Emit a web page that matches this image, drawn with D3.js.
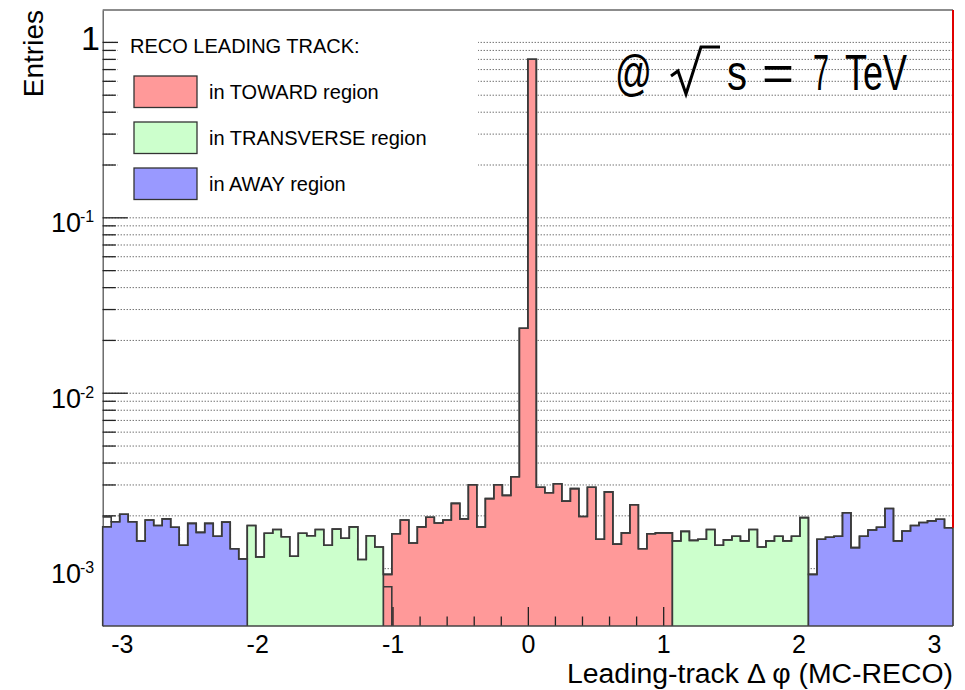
<!DOCTYPE html>
<html><head><meta charset="utf-8">
<script src="https://cdn.jsdelivr.net/npm/d3@7/dist/d3.min.js"></script>
<style>body{margin:0;background:#fff} text{font-family:"Liberation Sans",Arial,Helvetica,sans-serif;fill:#000}</style>
</head><body>
<svg id="c" width="965" height="690" xmlns="http://www.w3.org/2000/svg"></svg>
<script>
// ---------------- DATA ----------------
const binCount = 100;
const xDomain = [-Math.PI, Math.PI];
const yDomain = [4.68e-4, 1.52];

// total (outline) histogram, 100 bins from -pi to pi
const totalEntries = [
  0.00196, 0.00184, 0.00203, 0.00184, 0.00143, 0.00188, 0.00175, 0.00191, 0.00171, 0.00135,
  0.00180, 0.00160, 0.00180, 0.00152, 0.00183, 0.00129, 0.00113, 0.00175, 0.00116, 0.00158,
  0.00166, 0.00151, 0.00117, 0.00158, 0.00153, 0.00166, 0.00135, 0.00167, 0.00148, 0.00172,
  0.00112, 0.00153, 0.00132, 0.000922, 0.00157, 0.00188, 0.00139, 0.00172, 0.00195, 0.00181,
  0.00188, 0.00234, 0.00191, 0.00299, 0.00172, 0.00249, 0.00299, 0.00260, 0.00332, 0.0233,
  0.796, 0.00289, 0.00269, 0.00303, 0.00241, 0.00284, 0.00197, 0.00289, 0.00146, 0.00272,
  0.00137, 0.00159, 0.00230, 0.00129, 0.00157, 0.00159, 0.00159, 0.00143, 0.00162, 0.00144,
  0.00146, 0.00166, 0.00135, 0.00145, 0.00152, 0.00143, 0.00166, 0.00132, 0.00143, 0.00152,
  0.00143, 0.00152, 0.00194, 0.000922, 0.00146, 0.00150, 0.00152, 0.00207, 0.00131, 0.00152,
  0.00165, 0.00171, 0.00219, 0.00143, 0.00163, 0.00175, 0.00182, 0.00186, 0.00190, 0.00170
];

// region histograms (filled), each given with its first bin index
const awayLeftStart = 0;
const awayLeftEntries = [0.00172, 0.00184, 0.00203, 0.00184, 0.00143, 0.00188, 0.00175, 0.00191, 0.00171, 0.00135, 0.00180, 0.00160, 0.00180, 0.00152, 0.00183, 0.00129, 0.00113];
const transverseLeftStart = 17;
const transverseLeftEntries = [0.00175, 0.00116, 0.00158, 0.00166, 0.00151, 0.00117, 0.00158, 0.00153, 0.00166, 0.00135, 0.00167, 0.00148, 0.00172, 0.00112, 0.00153, 0.00132];
const towardStart = 33;
const towardEntries = [0.000922, 0.00157, 0.00188, 0.00139, 0.00172, 0.00195, 0.00181, 0.00188, 0.00234, 0.00191, 0.00299, 0.00172, 0.00249, 0.00299, 0.00260, 0.00332, 0.0233, 0.796, 0.00289, 0.00269, 0.00303, 0.00241, 0.00284, 0.00197, 0.00289, 0.00146, 0.00272, 0.00137, 0.00159, 0.00230, 0.00129, 0.00157, 0.00159, 0.00159];
const towardOverlapStart = 33;
const towardOverlapEntries = [0.000783];
const transverseRightStart = 67;
const transverseRightEntries = [0.00143, 0.00162, 0.00144, 0.00146, 0.00166, 0.00135, 0.00145, 0.00152, 0.00143, 0.00166, 0.00132, 0.00143, 0.00152, 0.00143, 0.00152, 0.00194];
const awayRightStart = 83;
const awayRightEntries = [0.000922, 0.00146, 0.00150, 0.00152, 0.00207, 0.00131, 0.00152, 0.00165, 0.00171, 0.00219, 0.00143, 0.00163, 0.00175, 0.00182, 0.00186, 0.00190, 0.00170];

const xMajorTicks = [-3, -2, -1, 0, 1, 2, 3];
const xTickLabels = ["-3", "-2", "-1", "0", "1", "2", "3"];
const yMajorTicks = [1e-3, 1e-2, 1e-1, 1];
const yTickBases = ["10", "10", "10", "1"];
const yTickExponents = ["-3", "-2", "-1", ""];
const legendTitle = "RECO LEADING TRACK:";
const legendLabels = ["in TOWARD region", "in TRANSVERSE region", "in AWAY region"];
const regionColors = ["#ff9999", "#ccffcc", "#9999ff"];
const xTitle = "Leading-track \u0394 \u03c6 (MC-RECO)";
const yTitle = "Entries";

// ---------------- LAYOUT ----------------
const W = 965, H = 690;
const L = 102.7, R = 953, T = 10, B = 626;
const svg = d3.select("#c");
svg.append("rect").attr("width", W).attr("height", H).attr("fill", "#fff");

const x = d3.scaleLinear().domain(xDomain).range([L, R]);
const y = d3.scaleLog().domain(yDomain).range([B, T]);
const edge = i => xDomain[0] + i * (xDomain[1] - xDomain[0]) / binCount;

// minor log ticks
const yAllTicks = [];
for (let d = -4; d <= 0; d++) for (let m = 1; m <= 9; m++) {
  const v = m * Math.pow(10, d);
  if (v >= yDomain[0] && v <= yDomain[1]) yAllTicks.push(v);
}
const yMinorTicks = yAllTicks.filter(v => !yMajorTicks.some(t => Math.abs(t - v) / t < 1e-6));

// gridlines
const grid = svg.append("g").attr("transform", `translate(${L},0)`)
  .call(d3.axisLeft(y).tickValues(yAllTicks).tickSize(-(R - L)).tickFormat(""));
grid.select(".domain").remove();
grid.selectAll("line").attr("stroke", "#333").attr("stroke-width", 1).attr("stroke-dasharray", "1,2");

// y axis ticks
const yMin = svg.append("g").attr("transform", `translate(${L},0)`)
  .call(d3.axisLeft(y).tickValues(yMinorTicks).tickSizeInner(-13).tickSizeOuter(0).tickFormat(""));
yMin.select(".domain").attr("stroke", "#555").attr("stroke-width", 1.3);
yMin.selectAll(".tick line").attr("stroke", "#222").attr("stroke-width", 1.3);
const yMaj = svg.append("g").attr("transform", `translate(${L},0)`)
  .call(d3.axisLeft(y).tickValues(yMajorTicks).tickSizeInner(-25).tickSizeOuter(0).tickFormat(""));
yMaj.select(".domain").remove();
yMaj.selectAll(".tick line").attr("stroke", "#222").attr("stroke-width", 1.3);

// legend background
svg.append("rect").attr("x", 118).attr("y", T + 1).attr("width", 360).attr("height", 194).attr("fill", "#fff");

// histogram helpers
function segPath(start, vals) {
  const p = d3.path();
  p.moveTo(x(edge(start)), B);
  vals.forEach((v, i) => {
    p.lineTo(x(edge(start + i)), y(v));
    p.lineTo(x(edge(start + i + 1)), y(v));
  });
  p.lineTo(x(edge(start + vals.length)), B);
  return p.toString();
}
function drawSeg(start, vals, color) {
  svg.append("path").attr("d", segPath(start, vals)).attr("fill", color)
    .attr("stroke", "#3a3a3a").attr("stroke-width", 1.6).attr("stroke-linejoin", "miter");
}

// toward (red) first, then x ticks, then other regions
drawSeg(towardStart, towardEntries, regionColors[0]);
drawSeg(towardOverlapStart, towardOverlapEntries, regionColors[0]);

const xMinorTicks = d3.range(-15, 16).map(k => k / 5).filter(v => Math.abs(v - Math.round(v)) > 1e-9);
const xMin = svg.append("g").attr("transform", `translate(0,${B})`)
  .call(d3.axisBottom(x).tickValues(xMinorTicks).tickSizeInner(-9.5).tickSizeOuter(0).tickFormat(""));
xMin.select(".domain").remove();
xMin.selectAll(".tick line").attr("stroke", "#222").attr("stroke-width", 1.3);
const xMaj = svg.append("g").attr("transform", `translate(0,${B})`)
  .call(d3.axisBottom(x).tickValues(xMajorTicks).tickSizeInner(-19).tickSizeOuter(0).tickPadding(27)
    .tickFormat((d, i) => xTickLabels[i]));
xMaj.select(".domain").remove();
xMaj.selectAll(".tick line").attr("stroke", "#222").attr("stroke-width", 1.3);
xMaj.selectAll(".tick text").attr("font-size", 25).attr("fill", "#000")
  .attr("font-family", "Liberation Sans, Arial, sans-serif").attr("dy", 0);

drawSeg(transverseLeftStart, transverseLeftEntries, regionColors[1]);
drawSeg(transverseRightStart, transverseRightEntries, regionColors[1]);
drawSeg(awayLeftStart, awayLeftEntries, regionColors[2]);
drawSeg(awayRightStart, awayRightEntries, regionColors[2]);

// total outline
const stepPts = totalEntries.map((v, i) => [edge(i), v]).concat([[edge(binCount), totalEntries[binCount - 1]]]);
svg.append("path").attr("d", d3.line().x(d => x(d[0])).y(d => y(d[1])).curve(d3.curveStepAfter)(stepPts))
  .attr("fill", "none").attr("stroke", "#3a3a3a").attr("stroke-width", 1.6);

// frame
svg.append("line").attr("x1", L).attr("x2", R).attr("y1", B).attr("y2", B).attr("stroke", "#444").attr("stroke-width", 1.5);
svg.append("line").attr("x1", L).attr("x2", R).attr("y1", T).attr("y2", T).attr("stroke", "#666").attr("stroke-width", 1.3);
svg.append("line").attr("x1", R).attr("x2", R).attr("y1", T).attr("y2", y(totalEntries[binCount - 1]))
  .attr("stroke", "#e00000").attr("stroke-width", 2);

// y tick labels
yMajorTicks.forEach((t, i) => {
  if (yTickExponents[i] === "") {
    svg.append("text").attr("x", 100).attr("y", y(t) + 8).attr("text-anchor", "end")
      .attr("font-size", 34).text(yTickBases[i]);
  } else {
    svg.append("text").attr("x", 81).attr("y", y(t) + 15).attr("text-anchor", "end")
      .attr("font-size", 27).text(yTickBases[i]);
    svg.append("text").attr("x", 80).attr("y", y(t) + 5).attr("text-anchor", "start")
      .attr("font-size", 16).text(yTickExponents[i]);
  }
});

// axis titles
svg.append("text").attr("transform", "translate(43,10) rotate(-90)").attr("text-anchor", "end")
  .attr("font-size", 28).text(yTitle);
svg.append("text").attr("x", 953).attr("y", 683).attr("text-anchor", "end")
  .attr("font-size", 27).attr("textLength", 386).attr("lengthAdjust", "spacingAndGlyphs").text(xTitle);

// legend
svg.append("text").attr("x", 130).attr("y", 53).attr("font-size", 20).text(legendTitle);
const legendY = [76, 122, 168];
legendLabels.forEach((lab, i) => {
  svg.append("rect").attr("x", 134).attr("y", legendY[i]).attr("width", 63).attr("height", 31.5)
    .attr("fill", regionColors[i]).attr("stroke", "#333").attr("stroke-width", 1.3);
  svg.append("text").attr("x", 209).attr("y", legendY[i] + 22.5).attr("font-size", 20).text(lab);
});

// energy label "@ sqrt(s) = 7 TeV"
const eg = svg.append("g");
const pieces = [["@", 615, 37], ["s", 727, 20], ["=", 762, 32], ["7", 813, 16], ["TeV", 845, 62]];
pieces.forEach(([t, px, w]) => {
  eg.append("text").attr("x", px).attr("y", 90).attr("font-size", 50)
    .attr("textLength", w).attr("lengthAdjust", "spacingAndGlyphs").text(t);
});
eg.append("path").attr("d", "M671,76 L678,71 L686,94 L701,47 L720,47")
  .attr("fill", "none").attr("stroke", "#000").attr("stroke-width", 3).attr("stroke-linejoin", "miter");
</script>
</body></html>
